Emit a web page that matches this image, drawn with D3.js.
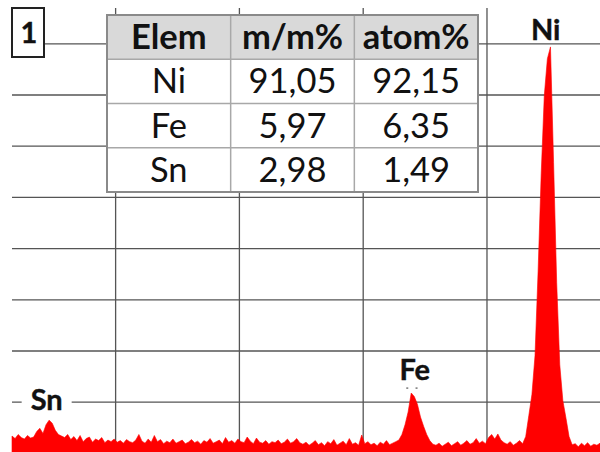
<!DOCTYPE html>
<html>
<head>
<meta charset="utf-8">
<script src="https://cdn.jsdelivr.net/npm/d3@7"></script>
<style>
  html, body { margin: 0; padding: 0; background: #fff; }
  svg { display: block; }
</style>
</head>
<body>
<svg id="chart" width="600" height="452"></svg>
<script>
// ---------------- DATA ----------------
// EDS spectrum: channel calibration (keV) and counts (arbitrary units, grid step = 1)
const energyStart = 3.167;
const channelWidth = 0.025;
const counts = [
  0.33,0.28,0.36,0.30,0.27,0.34,0.29,0.31,
  0.42,0.48,0.38,0.55,0.64,0.58,0.44,0.36,0.33,
  0.30,0.36,0.26,0.32,0.24,0.34,0.22,0.28,0.31,0.21,0.27,0.24,0.30,0.20,0.25,0.22,0.27,
  0.21,0.24,0.19,0.26,0.22,0.20,0.25,0.36,0.23,0.19,0.27,0.21,
  0.34,0.22,0.26,0.18,0.23,0.20,0.27,0.19,0.22,0.25,0.18,0.21,0.26,0.20,0.23,0.17,
  0.24,0.21,0.28,0.19,0.22,0.25,0.18,0.30,0.21,0.24,0.19,0.27,0.22,0.20,0.31,0.23,
  0.18,0.29,0.21,0.19,0.24,0.17,0.22,0.20,0.25,0.18,0.21,0.27,0.19,0.22,0.28,0.20,
  0.17,0.21,0.15,0.19,0.24,0.16,0.20,0.14,0.22,0.18,0.26,0.15,0.19,0.23,0.16,0.28,
  0.17,0.20,0.15,0.35,0.18,0.22,0.16,0.19,0.14,0.21,0.17,0.24,0.16,0.19,0.22,
  0.25,0.36,0.55,0.80,1.17,1.10,0.95,0.70,0.52,0.36,0.24,0.17,
  0.15,0.19,0.13,0.17,0.21,0.14,0.18,0.22,0.15,0.19,0.24,0.17,0.20,0.28,
  0.19,0.23,0.18,0.30,0.36,0.27,0.37,0.25,0.20,0.17,0.22,0.15,0.19,0.24,
  0.18,0.32,0.73,1.14,1.90,3.55,5.45,6.98,7.70,7.93,5.67,3.33,1.72,1.02,0.68,0.32,
  0.16,0.18,0.12,0.19,0.14,0.20,0.13,0.17,0.15,0.19
];
const xDomain = [3.167, 7.917];
const yDomain = [0, 8.69];
const xGridTicks = [4, 5, 6, 7];
const yGridTicks = [1, 2, 3, 4, 5, 6, 7, 8];

// Peak labels (element, line energy keV)
const peakElements = ["Sn", "Fe", "Ni"];
const peakEnergies = [3.447, 6.42, 7.478];

// Composition table
const tableHeaders = ["Elem", "m/m%", "atom%"];
const elements = ["Ni", "Fe", "Sn"];
const massPct = ["91,05", "5,97", "2,98"];
const atomPct = ["92,15", "6,35", "1,49"];

const spectrumLabel = "1";

// ---------------- CHART ----------------
const svg = d3.select("#chart");
const W = 600, H = 452;
const plot = { left: 12, right: 600, top: 8, bottom: 452.9 };

const x = d3.scaleLinear().domain(xDomain).range([plot.left, plot.right]);
const y = d3.scaleLinear().domain(yDomain).range([plot.bottom, plot.top]);

svg.append("rect").attr("width", W).attr("height", H).attr("fill", "#fff");

const gridColor = "#555";

// vertical grid
const gx = svg.append("g")
  .attr("transform", `translate(0,${plot.bottom})`)
  .call(d3.axisBottom(x).tickValues(xGridTicks).tickFormat("")
        .tickSize(-(plot.bottom - plot.top)).tickSizeOuter(0));
gx.select(".domain").remove();
gx.selectAll(".tick line").attr("stroke", gridColor).attr("stroke-width", 1.3);

// horizontal grid
const gy = svg.append("g")
  .attr("transform", `translate(${plot.left},0)`)
  .call(d3.axisLeft(y).tickValues(yGridTicks).tickFormat("")
        .tickSize(-(plot.right - plot.left)).tickSizeOuter(0));
gy.select(".domain").remove();
gy.selectAll(".tick line").attr("stroke", gridColor).attr("stroke-width", 1.3);

// spectrum
const spectrum = counts.map((c, i) => ({ e: energyStart + i * channelWidth, c }));
const area = d3.area()
  .x(d => x(d.e))
  .y0(y(0) + 2)
  .y1(d => y(d.c))
  .curve(d3.curveLinear);
svg.append("path").datum(spectrum)
  .attr("d", area)
  .attr("fill", "#ff0000")
  .attr("stroke", "#ff0000")
  .attr("stroke-width", 0.6);

// peak labels
const labelFont = "Lato, 'Noto Sans', sans-serif";
const labelOffsets = { Sn: 0.84, Fe: 1.43, Ni: 8.07 };
peakElements.forEach((el, k) => {
  const lx = x(peakEnergies[k]);
  const ly = y(labelOffsets[el]);
  if (el === "Sn") {
    svg.append("rect")
      .attr("x", lx - 25).attr("y", ly - 26)
      .attr("width", 50).attr("height", 32)
      .attr("fill", "#fff");
  }
  svg.append("text")
    .attr("x", lx).attr("y", ly)
    .attr("text-anchor", "middle")
    .attr("font-family", labelFont)
    .attr("font-weight", "bold")
    .attr("font-size", 29)
    .attr("fill", "#111")
    .attr("stroke", "#111")
    .attr("stroke-width", 0.4)
    .text(el);
});
// small line markers above Fe peak
[6.36, 6.435].forEach(e => {
  svg.append("rect").attr("x", x(e) - 1).attr("y", y(1.28))
    .attr("width", 2).attr("height", 1.5).attr("fill", "#777");
});

// spectrum number box
svg.append("rect")
  .attr("x", 12).attr("y", 8).attr("width", 32).attr("height", 49)
  .attr("fill", "#fff").attr("stroke", "#222").attr("stroke-width", 2);
svg.append("text")
  .attr("x", 29).attr("y", 43)
  .attr("text-anchor", "middle")
  .attr("font-family", labelFont)
  .attr("font-weight", "bold")
  .attr("font-size", 29)
  .attr("fill", "#111")
  .attr("stroke", "#111")
  .attr("stroke-width", 0.4)
  .text(spectrumLabel);

// table
const tbl = { left: 107, right: 478, top: 15, bottom: 192 };
const colX = d3.scaleBand().domain(d3.range(tableHeaders.length)).range([tbl.left, tbl.right]);
const rowY = d3.scaleBand().domain(d3.range(elements.length + 1)).range([tbl.top, tbl.bottom]);
const rows = [tableHeaders].concat(elements.map((el, i) => [el, massPct[i], atomPct[i]]));

const tg = svg.append("g");
tg.append("rect")
  .attr("x", tbl.left).attr("y", tbl.top)
  .attr("width", tbl.right - tbl.left).attr("height", tbl.bottom - tbl.top)
  .attr("fill", "#fff");
tg.append("rect")
  .attr("x", tbl.left).attr("y", rowY(0))
  .attr("width", tbl.right - tbl.left).attr("height", rowY.bandwidth())
  .attr("fill", "#d9d9d9");
// inner lines
d3.range(1, elements.length + 1).forEach(r => {
  tg.append("line")
    .attr("x1", tbl.left).attr("x2", tbl.right)
    .attr("y1", rowY(r)).attr("y2", rowY(r))
    .attr("stroke", "#a8a8a8").attr("stroke-width", 1.5);
});
d3.range(1, tableHeaders.length).forEach(c => {
  tg.append("line")
    .attr("x1", colX(c)).attr("x2", colX(c))
    .attr("y1", tbl.top).attr("y2", tbl.bottom)
    .attr("stroke", "#a8a8a8").attr("stroke-width", 1.5);
});
tg.append("rect")
  .attr("x", tbl.left).attr("y", tbl.top)
  .attr("width", tbl.right - tbl.left).attr("height", tbl.bottom - tbl.top)
  .attr("fill", "none").attr("stroke", "#8a8a8a").attr("stroke-width", 2);

rows.forEach((row, r) => {
  row.forEach((val, c) => {
    tg.append("text")
      .attr("x", colX(c) + colX.bandwidth() / 2)
      .attr("y", rowY(r) + rowY.bandwidth() / 2 + 12)
      .attr("text-anchor", "middle")
      .attr("font-family", labelFont)
      .attr("font-weight", r === 0 ? "bold" : "normal")
      .attr("font-size", 34.5)
      .attr("fill", "#111")
      .text(val);
  });
});
</script>
</body>
</html>
